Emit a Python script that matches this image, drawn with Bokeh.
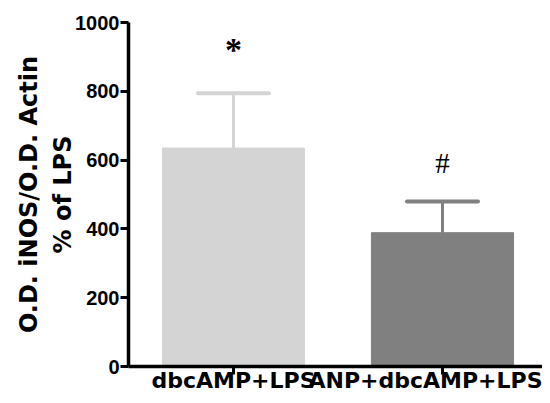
from bokeh.plotting import figure
from bokeh.models import ColumnDataSource, Range1d, FixedTicker, Whisker, TeeHead
from bokeh.embed import file_html
from bokeh.resources import INLINE

# ---- data ----
categories = ["dbcAMP+LPS", "ANP+dbcAMP+LPS"]
means = [635, 389]
sems = [159, 91]
bar_colors = ["#d4d4d4", "#808080"]
marks = ["*", "#"]
y_ticks = [0, 200, 400, 600, 800, 1000]

xs = [i + 1 for i in range(len(categories))]
upper = [m + s for m, s in zip(means, sems)]

src = ColumnDataSource(dict(x=xs, top=means, upper=upper, color=bar_colors))

p = figure(width=542, height=395, output_backend="svg", toolbar_location=None,
           x_range=Range1d(0.4976, 2.4785), y_range=Range1d(0, 1000),
           min_border_left=128, min_border_right=0, min_border_top=22,
           min_border_bottom=28)
p.outline_line_color = None
p.xgrid.visible = False
p.ygrid.visible = False
p.background_fill_color = "white"
p.border_fill_color = "white"

p.vbar(x="x", top="top", width=0.68, bottom=0, source=src,
       fill_color="color", line_color="color", line_width=1)

w = Whisker(base="x", upper="upper", lower="top", source=src,
            line_color="color", line_width=3, lower_head=None,
            upper_head=TeeHead(size=71, line_color="color", line_width=4, line_cap="round"))
p.add_layout(w)

# significance marks above the error bars
mark_styles = [dict(text_font_style="bold", text_font_size="34px", y_offset=-44),
               dict(text_font_style="normal", text_font_size="29px", y_offset=-38)]
for i, st in enumerate(mark_styles):
    p.text(x=[xs[i]], y=[upper[i]], text=[marks[i]], text_align="center",
           text_baseline="alphabetic", text_font="Liberation Sans",
           text_color="black", **st)

for ax in (p.xaxis[0], p.yaxis[0]):
    ax.axis_line_width = 3.5
    ax.axis_line_color = "black"
    ax.major_tick_line_width = 3
    ax.major_tick_line_color = "black"
    ax.major_tick_in = 0
    ax.major_tick_out = 8
    ax.minor_tick_line_color = None
    ax.major_label_text_color = "black"
    ax.axis_label_text_color = "black"

p.xaxis.ticker = FixedTicker(ticks=xs)
p.xaxis.major_label_overrides = {x: c for x, c in zip(xs, categories)}
p.xaxis.major_label_text_font = "DejaVu Sans"
p.xaxis.major_label_text_font_style = "bold"
p.xaxis.major_label_text_font_size = "22px"
p.xaxis.major_label_standoff = -7
p.xaxis.axis_label_standoff = 0

p.yaxis.ticker = FixedTicker(ticks=y_ticks)
p.yaxis.major_label_text_font = "Liberation Sans"
p.yaxis.major_label_text_font_style = "bold"
p.yaxis.major_label_text_font_size = "20px"
p.yaxis.major_label_standoff = 1
p.yaxis.axis_label = "O.D. iNOS/O.D. Actin\n% of LPS"
p.yaxis.axis_label_text_font = "DejaVu Sans"
p.yaxis.axis_label_text_font_style = "bold"
p.yaxis.axis_label_text_font_size = "24px"
p.yaxis.axis_label_standoff = -5

open("out.html", "w").write(file_html(p, INLINE))
